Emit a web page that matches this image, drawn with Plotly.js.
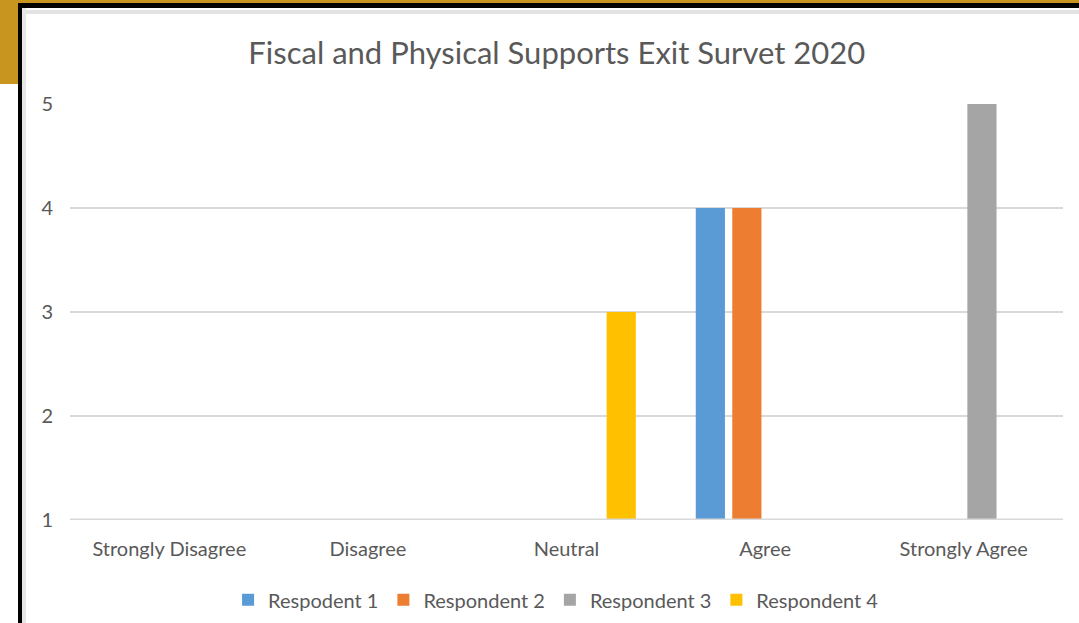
<!DOCTYPE html>
<html>
<head>
<meta charset="utf-8">
<script src="https://cdn.plot.ly/plotly-3.0.1.min.js"></script>
<style>
  html, body { margin: 0; padding: 0; background: #ffffff; }
  #wrap { position: relative; width: 1079px; height: 623px; overflow: hidden; background: #ffffff; }
  .deco { position: absolute; }
  #chart { position: absolute; left: 0; top: 0; width: 1079px; height: 623px; }
</style>
</head>
<body>
<div id="wrap">
  <div class="deco" style="left:0;top:0;width:1079px;height:3px;background:#C8961E;"></div>
  <div class="deco" style="left:0;top:0;width:18px;height:84px;background:#C8961E;"></div>
  <div class="deco" style="left:18px;top:3px;width:1061px;height:5px;background:#000000;"></div>
  <div class="deco" style="left:18px;top:3px;width:4px;height:620px;background:#000000;"></div>
  <div class="deco" style="left:22px;top:10px;width:1057px;height:4px;background:#E3E3E3;"></div>
  <div class="deco" style="left:22px;top:8px;width:4px;height:615px;background:#E6E6E6;"></div>
  <div id="chart"></div>
</div>
<script>
const categories = ["Strongly Disagree", "Disagree", "Neutral", "Agree", "Strongly Agree"];
const seriesNames = ["Respodent 1", "Respondent 2", "Respondent 3", "Respondent 4"];
const respondent1 = [0, 0, 0, 4, 0];
const respondent2 = [0, 0, 0, 4, 0];
const respondent3 = [0, 0, 0, 0, 5];
const respondent4 = [0, 0, 3, 0, 0];
const yTicks = [1, 2, 3, 4, 5];
const colors = ["#5B9BD5", "#ED7D31", "#A5A5A5", "#FFC000"];

const allSeries = [respondent1, respondent2, respondent3, respondent4];
const FONT = "Lato, 'Open Sans', sans-serif";

const traces = allSeries.map((vals, i) => ({
  type: "bar",
  name: seriesNames[i],
  x: categories,
  y: vals,
  marker: { color: colors[i], line: { width: 0 } },
  hoverinfo: "x+y+name"
}));

const layout = {
  width: 1079,
  height: 623,
  paper_bgcolor: "rgba(0,0,0,0)",
  plot_bgcolor: "rgba(0,0,0,0)",
  margin: { l: 70, r: 16, t: 104, b: 103, autoexpand: false },
  font: { family: FONT, color: "#595959" },
  title: {
    text: "Fiscal and Physical Supports Exit Survet 2020",
    font: { family: FONT, size: 31, color: "#595959" },
    x: 0.516, xanchor: "center",
    y: 0.915, yanchor: "middle"
  },
  barmode: "group",
  bargap: 0.265,
  bargroupgap: 0.2,
  xaxis: {
    type: "category",
    showgrid: false,
    showline: false,
    zeroline: false,
    ticks: "",
    ticklabelstandoff: 15,
    tickfont: { family: FONT, size: 20, color: "#595959" }
  },
  yaxis: {
    range: [1, 5],
    tickvals: yTicks,
    ticktext: yTicks.map(String),
    showgrid: true,
    gridcolor: "#D9D9D9",
    gridwidth: 2,
    zeroline: false,
    showline: false,
    ticks: "",
    ticklabelstandoff: 16,
    tickfont: { family: FONT, size: 20, color: "#595959" }
  },
  shapes: [{
    type: "line", xref: "paper", yref: "y",
    x0: 0, x1: 1, y0: 1, y1: 1,
    line: { color: "#D9D9D9", width: 3 }
  }],
  legend: {
    orientation: "h",
    x: 0.4895, xanchor: "center",
    y: -0.192, yanchor: "middle",
    bgcolor: "rgba(0,0,0,0)",
    font: { family: FONT, size: 20, color: "#595959" },
    itemwidth: 30,
    traceorder: "normal"
  },
  showlegend: true
};

Plotly.newPlot("chart", traces, layout, { displayModeBar: false, staticPlot: true });
</script>
</body>
</html>
